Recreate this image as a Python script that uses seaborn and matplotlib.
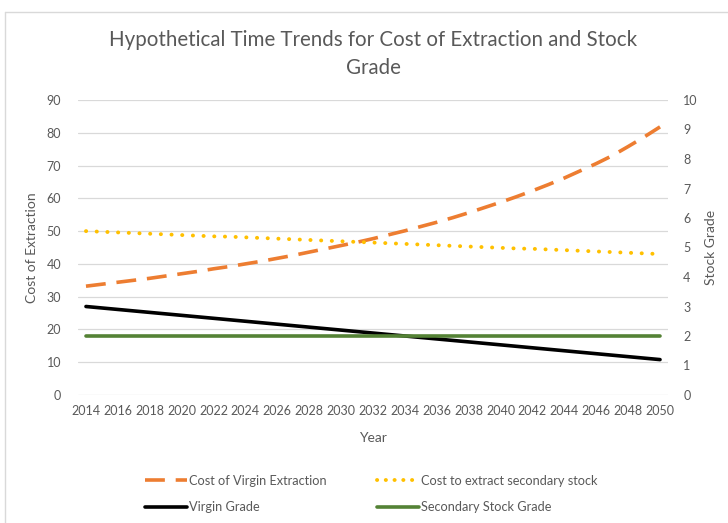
import matplotlib
matplotlib.use("Agg")
import matplotlib.pyplot as plt
import seaborn as sns
import pandas as pd
from matplotlib.lines import Line2D

years = list(range(2014, 2051))
cost_virgin = [33.2, 33.8, 34.4, 35.0, 35.6, 36.3, 37.0, 37.7, 38.5, 39.2,
               40.0, 40.8, 41.7, 42.6, 43.6, 44.6, 45.6, 46.6, 47.7, 48.9,
               50.1, 51.4, 52.7, 54.1, 55.6, 57.2, 58.8, 60.5, 62.3, 64.2,
               66.2, 68.4, 70.6, 73.0, 75.8, 78.7, 81.8]
cost_secondary = [50.0, 49.8, 49.6, 49.4, 49.2, 49.0, 48.8, 48.6, 48.4, 48.3,
                  48.1, 47.9, 47.7, 47.5, 47.3, 47.1, 46.9, 46.7, 46.5, 46.3,
                  46.1, 45.9, 45.7, 45.5, 45.3, 45.1, 44.9, 44.7, 44.6, 44.4,
                  44.2, 44.0, 43.8, 43.6, 43.4, 43.2, 43.0]
virgin_grade = [3.00, 2.95, 2.90, 2.85, 2.80, 2.75, 2.70, 2.65, 2.60, 2.55,
                2.50, 2.45, 2.40, 2.35, 2.30, 2.25, 2.20, 2.15, 2.10, 2.05,
                2.00, 1.95, 1.90, 1.85, 1.80, 1.75, 1.70, 1.65, 1.60, 1.55,
                1.50, 1.45, 1.40, 1.35, 1.30, 1.25, 1.20]
secondary_grade = [2.0] * 37
xtick_years = list(range(2014, 2051, 2))
left_ticks = list(range(0, 91, 10))
right_ticks = list(range(0, 11, 1))

df = pd.DataFrame({"Year": years, "cv": cost_virgin, "cs": cost_secondary,
                   "vg": virgin_grade, "sg": secondary_grade})

sns.set_theme(style="white")
plt.rcParams['font.family'] = ['Lato', 'DejaVu Sans']
TXT = "#595959"

W, H = 728, 523
fig = plt.figure(figsize=(W / 100, H / 100), dpi=100)
ax = fig.add_axes([78 / W, 1 - 395 / H, (668 - 78) / W, (395 - 100) / H])
ax2 = ax.twinx()

lw = 2.6
sns.lineplot(data=df, x="Year", y="cv", ax=ax, color="#ED7D31", linewidth=lw)
sns.lineplot(data=df, x="Year", y="cs", ax=ax, color="#FFC000", linewidth=lw)
sns.lineplot(data=df, x="Year", y="vg", ax=ax2, color="#000000", linewidth=lw)
sns.lineplot(data=df, x="Year", y="sg", ax=ax2, color="#548235", linewidth=lw)

l_cv, l_cs = ax.get_lines()[0], ax.get_lines()[1]
l_cv.set_linestyle((0, (5.5, 3)))
l_cv.set_dash_capstyle("butt")
l_cs.set_linestyle((0, (0.05, 2.7)))
l_cs.set_dash_capstyle("round")
l_cs.set_linewidth(2.8)

ax.set_xlim(2013.5, 2050.5)
ax.set_ylim(0, 90)
ax2.set_ylim(0, 10)
ax.set_xticks(xtick_years)
ax.set_yticks(left_ticks)
ax2.set_yticks(right_ticks)
ax.grid(axis="y", color="#D9D9D9", linewidth=0.9)
ax.set_axisbelow(True)
for a in (ax, ax2):
    for s in a.spines.values():
        s.set_visible(False)
ax.tick_params(axis="both", length=0, labelcolor=TXT, labelsize=9)
ax.tick_params(axis="y", pad=12)
ax.tick_params(axis="x", pad=7)
ax2.tick_params(axis="y", length=0, labelcolor=TXT, labelsize=9, pad=11)
ax.set_xlabel("Year", color=TXT, fontsize=10, labelpad=11)
ax.set_ylabel("Cost of Extraction", color=TXT, fontsize=10, labelpad=6)
ax2.set_ylabel("Stock Grade", color=TXT, fontsize=10, labelpad=5)

fig.text(373 / W, 1 - 54 / H,
         "Hypothetical Time Trends for Cost of Extraction and Stock\nGrade",
         ha="center", va="center", color=TXT, fontsize=14.8, linespacing=1.5)

handles = [
    Line2D([], [], color="#ED7D31", linewidth=lw, linestyle=(0, (5.5, 3))),
    Line2D([], [], color="#000000", linewidth=lw),
    Line2D([], [], color="#FFC000", linewidth=2.8, linestyle=(0, (0.05, 2.2)),
           dash_capstyle="round"),
    Line2D([], [], color="#548235", linewidth=lw),
]
labels = ["Cost of Virgin Extraction", "Virgin Grade",
          "Cost to extract secondary stock", "Secondary Stock Grade"]
leg = fig.legend(handles, labels, ncol=2, loc="center left",
                 bbox_to_anchor=(133 / W, 1 - 494 / H), frameon=False,
                 fontsize=9.2, handlelength=3.3, handletextpad=0.2,
                 columnspacing=3.9, labelspacing=1.15)
for t in leg.get_texts():
    t.set_color(TXT)

border = "#D9D9D9"
fig.add_artist(Line2D([5 / W, 1], [1 - 12 / H, 1 - 12 / H], color=border,
                      linewidth=1, transform=fig.transFigure))
fig.add_artist(Line2D([5 / W, 5 / W], [0, 1 - 12 / H], color=border,
                      linewidth=1, transform=fig.transFigure))

fig.savefig("out.png", dpi=100)
